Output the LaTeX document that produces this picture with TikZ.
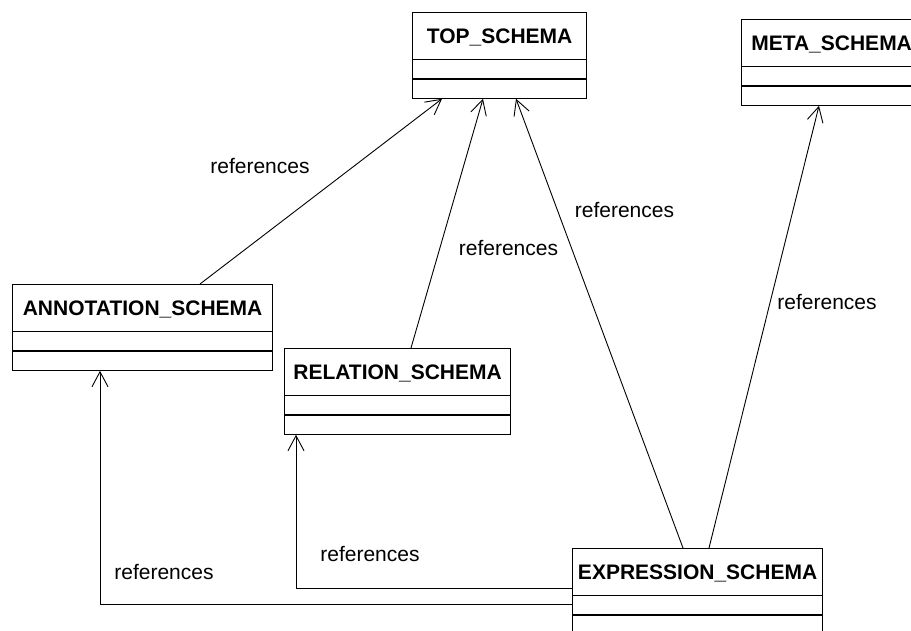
\documentclass[tikz,border=0pt]{standalone}
\usepackage{fontspec}
\setmainfont{Liberation Sans}
\usetikzlibrary{arrows.meta,shapes.multipart}

\newcommand{\titlestrut}{\rule[-15.5pt]{0pt}{46pt}}
\newcommand{\rowstrut}{\rule{0pt}{18pt}}

\begin{document}
\begin{tikzpicture}[
    x=1pt, y=1pt,
    every node/.style={font=\fontsize{21}{25}\selectfont},
    schema/.style={draw, line width=1.2pt, rectangle split, rectangle split parts=3,
      inner xsep=0pt, inner ysep=0pt, align=center, anchor=north west,
      font=\fontsize{21}{25}\selectfont\bfseries},
    ref/.style={-{Straight Barb[length=15pt,width=16pt]}, line width=0.9pt}
  ]
  \useasboundingbox (0,0) rectangle (911,630);
  \clip (0,0) rectangle (911,630);

  % classes
  \node[schema, text width=174pt] (top) at (412,618)
    {\titlestrut TOP\_SCHEMA \nodepart{second}\rowstrut \nodepart{third}\rowstrut};
  \node[schema, text width=180pt] (meta) at (741,611)
    {\titlestrut META\_SCHEMA \nodepart{second}\rowstrut \nodepart{third}\rowstrut};
  \node[schema, text width=260pt] (ann) at (12,346)
    {\titlestrut ANNOTATION\_SCHEMA \nodepart{second}\rowstrut \nodepart{third}\rowstrut};
  \node[schema, text width=226pt] (rel) at (284,282)
    {\titlestrut RELATION\_SCHEMA \nodepart{second}\rowstrut \nodepart{third}\rowstrut};
  \node[schema, text width=250pt] (expr) at (572,82)
    {\titlestrut EXPRESSION\_SCHEMA \nodepart{second}\rowstrut \nodepart{third}\rowstrut};

  % associations
  \draw[ref] ([xshift=188pt]ann.north west) -- ([xshift=30pt]top.south west);
  \draw[ref] ([xshift=127pt]rel.north west) -- ([xshift=71pt]top.south west);
  \draw[ref] ([xshift=111pt]expr.north west) -- ([xshift=104pt]top.south west);
  \draw[ref] ([xshift=137pt]expr.north west) -- ([xshift=78pt]meta.south west);
  \draw[ref] ([yshift=-40.6pt]expr.north west) -| ([xshift=12pt]rel.south west);
  \draw[ref] ([yshift=-56.7pt]expr.north west) -| ([xshift=88pt]ann.south west);

  % labels
  \node (lblann) at (260,464) {references};
  \node (lblrel) at (508.5,382) {references};
  \node (lbltop) at (624.5,420) {references};
  \node (lblmeta) at (827,328) {references};
  \node (lblexrel) at (370,76) {references};
  \node (lblexann) at (164,58) {references};
\end{tikzpicture}
\end{document}
